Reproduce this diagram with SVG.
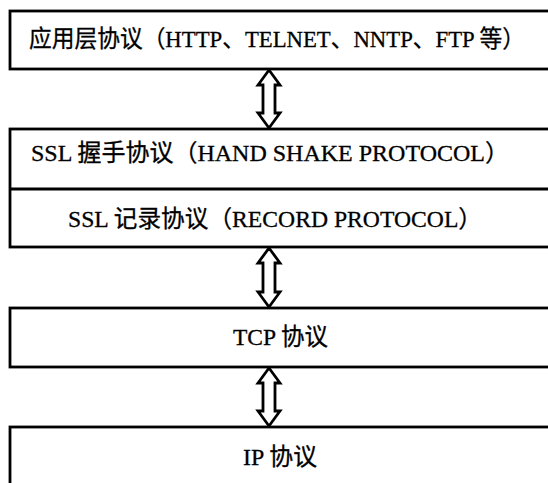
<svg xmlns="http://www.w3.org/2000/svg" width="548" height="483" viewBox="0 0 548 483">
  <style>
    .box { fill: #ffffff; stroke: #000000; stroke-width: 2.8; }
    .div { stroke: #000000; stroke-width: 2.8; fill: none; }
    .lbl { font-family: "Liberation Serif", "Noto Sans CJK SC", serif; font-size: 24px; fill: #000000; stroke: #000000; stroke-width: 0.3; }
    .arr { fill: #ffffff; stroke: #000000; stroke-width: 2.8; stroke-linejoin: miter; }
  </style>
  <rect x="0" y="0" width="548" height="483" fill="#ffffff"/>
  <g id="app-layer">
    <rect class="box" x="10" y="11" width="560" height="58"/>
    <text class="lbl" x="29" y="47" textLength="496" lengthAdjust="spacingAndGlyphs">应用层协议（HTTP、TELNET、NNTP、FTP 等）</text>
  </g>
  <g id="ssl-layer">
    <rect class="box" x="10" y="129" width="560" height="118"/>
    <line class="div" x1="10" y1="189" x2="560" y2="189"/>
    <g id="ssl-handshake">
      <text class="lbl" x="31" y="161" textLength="478" lengthAdjust="spacingAndGlyphs">SSL 握手协议（HAND SHAKE PROTOCOL）</text>
    </g>
    <g id="ssl-record">
      <text class="lbl" x="68" y="227" textLength="414" lengthAdjust="spacingAndGlyphs">SSL 记录协议（RECORD PROTOCOL）</text>
    </g>
  </g>
  <g id="tcp-layer">
    <rect class="box" x="10" y="308" width="560" height="59"/>
    <text class="lbl" x="233" y="345" textLength="95" lengthAdjust="spacingAndGlyphs">TCP 协议</text>
  </g>
  <g id="ip-layer">
    <rect class="box" x="10" y="427" width="560" height="80"/>
    <text class="lbl" x="243" y="465" textLength="74" lengthAdjust="spacingAndGlyphs">IP 协议</text>
  </g>
  <g id="connectors">
    <path class="arr" d="M269,70 L280,85 L275,85 L275,113 L280,113 L269,128 L258,113 L263,113 L263,85 L258,85 Z"/>
    <path class="arr" d="M269,248 L280,263 L275,263 L275,292 L280,292 L269,307 L258,292 L263,292 L263,263 L258,263 Z"/>
    <path class="arr" d="M269,368 L280,383 L275,383 L275,411 L280,411 L269,426 L258,411 L263,411 L263,383 L258,383 Z"/>
  </g>
</svg>
